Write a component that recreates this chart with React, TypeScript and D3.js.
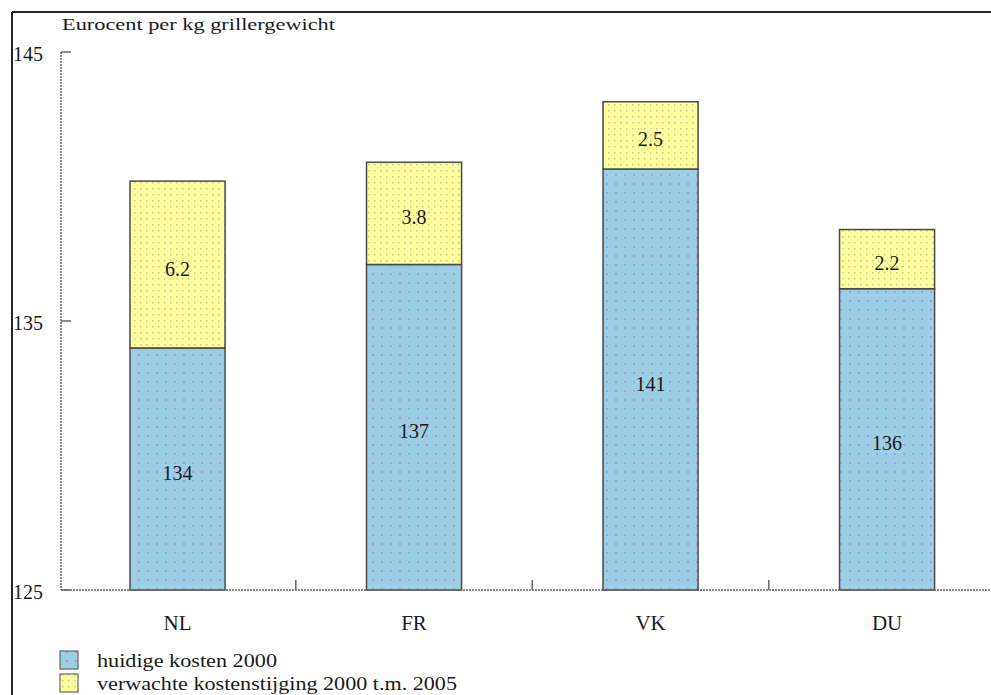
import * as d3 from "d3";

const categories = ["NL", "FR", "VK", "DU"];
const currentCost = [134, 137.1, 140.65, 136.2];
const expectedRise = [6.2, 3.8, 2.5, 2.2];
const currentLabels = ["134", "137", "141", "136"];
const riseLabels = ["6.2", "3.8", "2.5", "2.2"];
const yTicks = [125, 135, 145];
const legendLabels = [
  "huidige kosten 2000",
  "verwachte kostenstijging 2000 t.m. 2005",
];

const W = 991;
const H = 695;
const FONT = "'Liberation Serif', 'DejaVu Serif', serif";
const INK = "#1a1a1a";

const App = () => {
  const y = d3.scaleLinear().domain([125, 145]).range([590, 52]);
  const x = d3
    .scaleBand()
    .domain(categories)
    .range([62, 1002.6])
    .paddingInner(0.598)
    .paddingOuter(0.2875);

  const step = x.step();
  const bw = x.bandwidth();
  // x axis ticks sit halfway between the bars
  const sepTicks = categories.map((c) => (x(c) as number) + bw + (step - bw) / 2);

  const blueFill = "url(#bluePat)";
  const yellowFill = "url(#yellowPat)";
  const legendWidths = [180, 360];

  return (
    <svg
      width={W}
      height={H}
      style={{ position: "absolute", left: 0, top: 0, background: "#fff" }}
      fontFamily={FONT}
    >
      <defs>
        <pattern id="bluePat" width="9" height="9" patternUnits="userSpaceOnUse">
          <rect width="9" height="9" fill="#9ccfe3" />
          <rect x="3" y="3" width="2" height="2" fill="#a99ce6" />
        </pattern>
        <pattern id="yellowPat" width="6" height="6" patternUnits="userSpaceOnUse">
          <rect width="6" height="6" fill="#ffff9c" />
          <rect x="2" y="2" width="1.5" height="1.5" fill="#c4c49c" />
          <rect x="5" y="5" width="1" height="1" fill="#d4f6b4" />
        </pattern>
      </defs>

      {/* frame */}
      <line x1={12} y1={12} x2={W} y2={12} stroke="#222" strokeWidth={2} />
      <line x1={12} y1={12} x2={12} y2={H} stroke="#222" strokeWidth={2} />

      {/* title */}
      <text x={62} y={30} fontSize={17} fill={INK} textLength={273} lengthAdjust="spacingAndGlyphs">
        Eurocent per kg grillergewicht
      </text>

      {/* y axis */}
      <line x1={61} y1={y(145)} x2={61} y2={y(125)} stroke="#666" strokeWidth={1.5} strokeDasharray="2,1" />
      {yTicks.map((t) => (
        <g key={t}>
          <line x1={61} x2={71} y1={y(t)} y2={y(t)} stroke="#666" strokeWidth={1.5} />
          <text x={13} y={y(t) + 9} fontSize={20} fill={INK}>
            {t}
          </text>
        </g>
      ))}

      {/* bars */}
      {categories.map((c, i) => {
        const bx = x(c) as number;
        const y0 = y(125);
        const y1 = y(currentCost[i]);
        const y2 = y(currentCost[i] + expectedRise[i]);
        return (
          <g key={c}>
            <rect x={bx} y={y1} width={bw} height={y0 - y1} fill={blueFill} stroke="#4a4a4a" strokeWidth={1.5} />
            <rect x={bx} y={y2} width={bw} height={y1 - y2} fill={yellowFill} stroke="#4a4a4a" strokeWidth={1.5} />
            <text x={bx + bw / 2} y={(y0 + y1) / 2 + 11} textAnchor="middle" fontSize={20} fill={INK}>
              {currentLabels[i]}
            </text>
            <text x={bx + bw / 2} y={(y1 + y2) / 2 + 11} textAnchor="middle" fontSize={20} fill={INK}>
              {riseLabels[i]}
            </text>
          </g>
        );
      })}

      {/* x axis */}
      <line x1={61} y1={y(125)} x2={W} y2={y(125)} stroke="#666" strokeWidth={1.5} strokeDasharray="2,1" />
      {sepTicks.map((t) => (
        <line key={t} x1={t} x2={t} y1={y(125)} y2={y(125) - 10} stroke="#666" strokeWidth={1.5} />
      ))}
      {categories.map((c) => (
        <text key={c} x={(x(c) as number) + bw / 2} y={630} textAnchor="middle" fontSize={21} fill={INK}>
          {c}
        </text>
      ))}

      {/* legend */}
      {legendLabels.map((l, i) => (
        <g key={l}>
          <rect
            x={60}
            y={651 + i * 23}
            width={18}
            height={18}
            fill={i === 0 ? blueFill : yellowFill}
            stroke="#666"
            strokeWidth={1.2}
          />
          <text
            x={97}
            y={667 + i * 23}
            fontSize={18}
            fill={INK}
            textLength={legendWidths[i]}
            lengthAdjust="spacingAndGlyphs"
          >
            {l}
          </text>
        </g>
      ))}
    </svg>
  );
};

export default App;
